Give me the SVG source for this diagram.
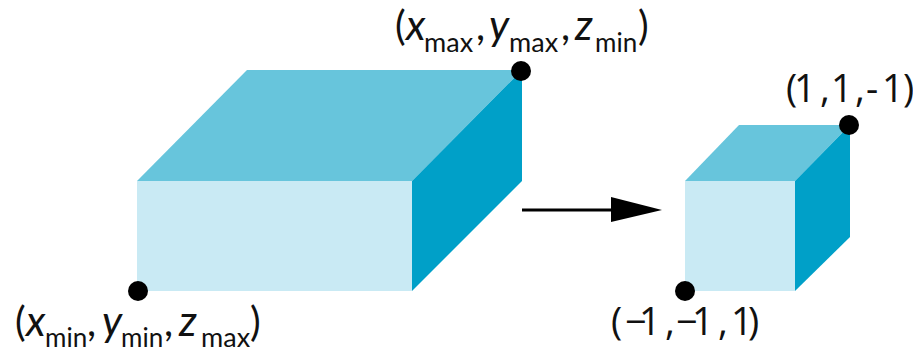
<svg xmlns="http://www.w3.org/2000/svg" width="913" height="352" viewBox="0 0 913 352">
<style>
.t{fill:#67c5dc}.f{fill:#c9eaf4}.s{fill:#00a0c8}
text{font-family:"Lato","Liberation Sans",sans-serif;fill:#111}
.m{font-size:40px}.i{font-size:42px;font-style:italic}.u{font-size:27px}.v{font-size:26px}
.n{font-family:"Open Sans","Liberation Sans",sans-serif;font-size:38px}
</style>
<rect width="913" height="352" fill="#fff"/>
<g id="large-box">
<polygon class="t" points="137,181 247,70 522,70 412,181"/>
<polygon class="f" points="137,181 412,181 412,291 137,291"/>
<polygon class="s" points="412,181 522,70 522,181 412,291"/>
</g>
<g id="small-box">
<polygon class="t" points="685,181 739,125 850,125 795,181"/>
<polygon class="f" points="685,181 795,181 795,291 685,291"/>
<polygon class="s" points="795,181 850,125 850,237 795,291"/>
</g>
<g id="connectors">
<line x1="522" y1="210" x2="620" y2="210" stroke="#000" stroke-width="3"/>
<polygon points="611,197 662,210 611,222" fill="#000"/>
</g>
<g id="point-max"><circle cx="521" cy="71" r="10"/>
<text><tspan x="395" y="40" class="m">(</tspan><tspan x="406" y="40" class="i">x</tspan><tspan x="424" y="52" class="u">max</tspan><tspan x="476" y="40" class="m">,</tspan><tspan x="489" y="40" class="i">y</tspan><tspan x="509" y="52" class="u">max</tspan><tspan x="561" y="40" class="m">,</tspan><tspan x="575" y="40" class="i">z</tspan><tspan x="595" y="52" class="v">min</tspan><tspan x="638" y="40" class="m">)</tspan></text></g>
<g id="point-min"><circle cx="138" cy="291" r="10"/>
<text><tspan x="15" y="336" class="m">(</tspan><tspan x="26" y="336" class="i">x</tspan><tspan x="45" y="347" class="v">min</tspan><tspan x="87" y="336" class="m">,</tspan><tspan x="102" y="336" class="i">y</tspan><tspan x="121" y="347" class="v">min</tspan><tspan x="164" y="336" class="m">,</tspan><tspan x="179" y="336" class="i">z</tspan><tspan x="201" y="347" class="u">max</tspan><tspan x="250" y="336" class="m">)</tspan></text></g>
<g id="point-one"><circle cx="849" cy="125" r="10"/>
<text class="n" y="102" x="786 794 820 831 855 866 882 903">(1,1,-1)</text></g>
<g id="point-minus-one"><circle cx="685" cy="291" r="10"/>
<text class="n" y="335" x="611 625 639 665 676 692 718 731 748">(−1,−1,1)</text></g>
</svg>
